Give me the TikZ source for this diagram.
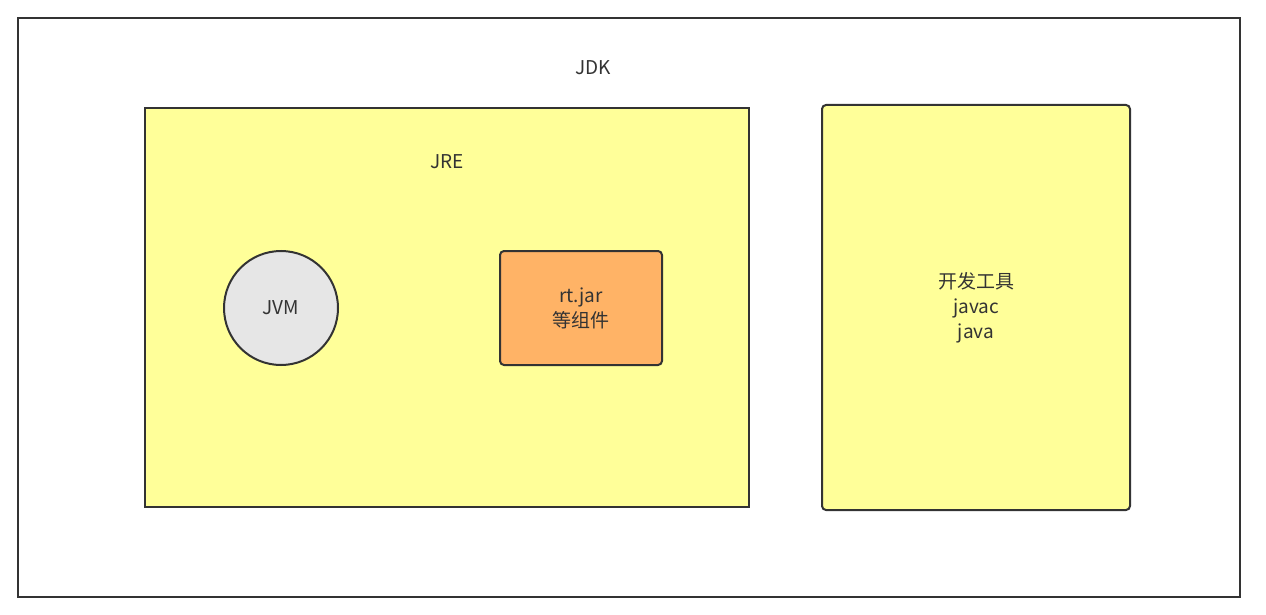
\documentclass[tikz,border=0pt]{standalone}
\usepackage{fontspec}
\setmainfont{Noto Sans CJK SC}
\definecolor{ylw}{HTML}{FFFF99}
\definecolor{org}{HTML}{FFB366}
\definecolor{gry}{HTML}{E6E6E6}
\definecolor{ln}{HTML}{333333}
\begin{document}
\begin{tikzpicture}[x=1pt,y=-1pt,
  every node/.style={font=\fontsize{19}{25}\selectfont,text=ln,align=center},
  boxst/.style={draw=ln,line width=2pt}]
\useasboundingbox (0,0) rectangle (1266,615);
\fill[white] (0,0) rectangle (1266,615);
\draw[boxst] (18,18) rectangle (1240,597);
\node (jdk) at (593,68) {JDK};
\draw[boxst,fill=ylw] (145,108) rectangle (749,507);
\node (jre) at (447,162) {JRE};
\node[boxst,fill=gry,circle,minimum size=114pt,inner sep=0pt] (jvm) at (281,308) {JVM};
\node[boxst,fill=org,rounded corners=4pt,minimum width=162pt,minimum height=114pt] (rt) at (581,308) {rt.jar\\等组件};
\node[boxst,fill=ylw,rounded corners=4pt,minimum width=308pt,minimum height=405pt] (dev) at (976,307.5) {开发工具\\javac\\java};
\end{tikzpicture}
\end{document}
